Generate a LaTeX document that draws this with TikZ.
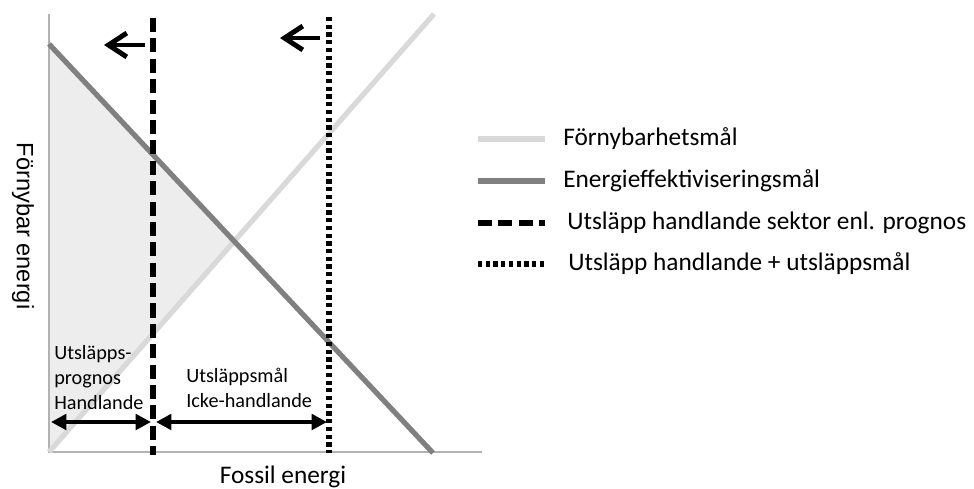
\documentclass[tikz,border=0pt]{standalone}
\usepackage{fontspec}
\setmainfont{Carlito}
\newfontfamily\arialfont{Liberation Sans}
\usetikzlibrary{arrows.meta}

\begin{document}
\begin{tikzpicture}[x=0.025cm,y=-0.025cm,
  axis/.style={draw=black!30,line width=1.3pt},
  fnline/.style={draw=black!15,line width=3.7pt},
  eeline/.style={draw=black!50,line width=3.7pt},
  prline/.style={draw=black,line width=4pt,dash pattern=on 10pt off 4.5pt},
  utline/.style={draw=black,line width=4pt,dash pattern=on 3pt off 2.5pt},
  movearrow/.style={draw=black,line width=3.5pt,-{Straight Barb[length=13pt,width=17pt,line width=3.5pt]}},
  span/.style={draw=black,line width=3pt,{Triangle[length=11pt,width=11pt]}-{Triangle[length=11pt,width=11pt]}},
  spanlabel/.style={anchor=west,inner sep=0,align=left,font=\fontsize{14.4}{17.8}\selectfont},
  legendtext/.style={anchor=west,inner sep=0,font=\fontsize{18}{22}\selectfont}]
  \useasboundingbox (0,0) rectangle (974,488);

  \coordinate (o) at (49,452);
  \coordinate (ytop) at (49,14);
  \coordinate (xend) at (482,452);
  \coordinate (ee0) at (49,44);
  \coordinate (ee1) at (433,453);
  \coordinate (fn0) at (49,452);
  \coordinate (fn1) at (434,14);
  \coordinate (pr0) at (153,18);
  \coordinate (pr1) at (153,455);
  \coordinate (ut0) at (329,17);
  \coordinate (ut1) at (329,453);

  \fill[black!7] (ee0) -- (intersection of ee0--ee1 and fn0--fn1) -- (fn0) -- cycle;

  \draw[axis] (ytop) -- (o) -- (xend);
  \draw[fnline] (fn0) -- (fn1);
  \draw[eeline] (ee0) -- (ee1);
  \draw[prline] (pr0) -- (pr1);
  \draw[utline] (ut0) -- (ut1);

  \coordinate (m0) at (145,45);
  \coordinate (m1) at (104,45);
  \coordinate (m2) at (320,38);
  \coordinate (m3) at (280,38);
  \draw[movearrow] (m0) -- (m1);
  \draw[movearrow] (m2) -- (m3);

  \coordinate (s0) at (51,422);
  \coordinate (s1) at (151,422);
  \coordinate (s2) at (156,422);
  \coordinate (s3) at (327,422);
  \draw[span] (s0) -- (s1);
  \draw[span] (s2) -- (s3);

  \node[spanlabel] (prog) at (54,378) {Utsläpps-\\prognos\\Handlande};
  \node[spanlabel] (mal) at (186,388) {Utsläppsmål\\Icke-handlande};

  \node[rotate=-90,font=\arialfont\fontsize{16.8}{20}\selectfont] (ylab) at (23,226) {Förnybar energi};
  \node[font=\fontsize{18}{22}\selectfont] (xlab) at (283,477) {Fossil energi};

  \foreach \y/\st/\x/\txt in {139/fnline/563/Förnybarhetsmål,
                              181/eeline/563/Energieffektiviseringsmål,
                              223/prline/567/Utsläpp handlande sektor enl. prognos,
                              264/utline/568/Utsläpp handlande + utsläppsmål} {
    \draw[\st] (478,\y) -- (545,\y);
    \node[legendtext] (leg\y) at (\x,\y) {\txt};
  }

\end{tikzpicture}
\end{document}
